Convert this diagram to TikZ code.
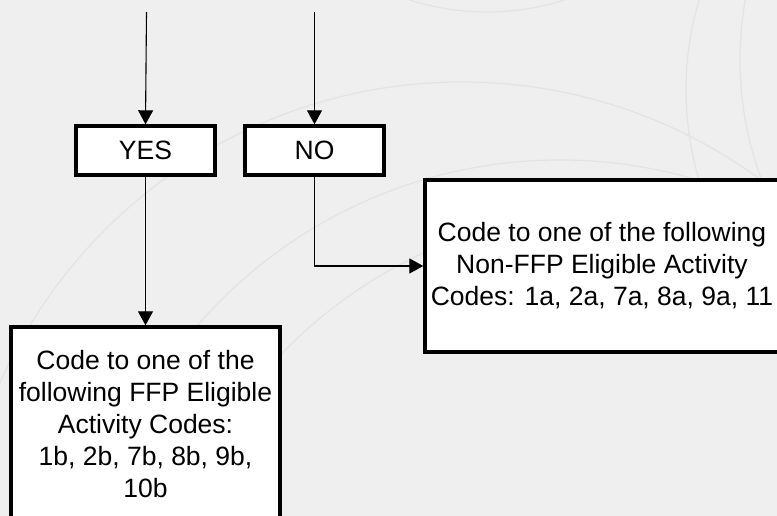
\documentclass[tikz,border=0pt]{standalone}
\usepackage{fontspec}
\setmainfont{Liberation Sans}
\usetikzlibrary{arrows.meta}
\definecolor{bg}{HTML}{EFEFEF}
\definecolor{arcc}{HTML}{E3E3E3}
\tikzset{
  boxnode/.style={draw=black, fill=white, line width=3.4pt, align=center,
    font=\fontsize{26.5}{32}\selectfont, inner sep=0pt},
  conn/.style={draw=black, line width=1.1pt, -{Triangle[length=14pt,width=15pt]}},
  deco/.style={draw=arcc, line width=1.2pt}
}
\begin{document}
\begin{tikzpicture}[x=1pt,y=-1pt]
\useasboundingbox[fill=bg] (0,0) rectangle (777,516);
\clip (0,0) rectangle (777,516);
% faint decorative arcs
\draw[deco] (462,587) circle (505);
\draw[deco] (487,-241) circle (253);
\draw[deco] (560,640) circle (480);
\draw[deco] (620,680) circle (470);
\draw[deco] (1000,90) circle (314);
\draw[deco] (1080,60) circle (340);
% nodes
\coordinate (yt) at (146.5,12);
\coordinate (nt) at (314.5,12);
\node[boxnode, minimum width=139pt, minimum height=49pt] (yes) at (145.5,150.5) {YES};
\node[boxnode, minimum width=139pt, minimum height=49pt] (no) at (314.5,150.5) {NO};
\node[boxnode, minimum width=354pt, minimum height=172pt] (nonffp) at (602,266)
  {Code to one of the following\\Non-FFP Eligible Activity\\Codes: 1a, 2a, 7a, 8a, 9a, 11};
\node[boxnode, minimum width=269pt, minimum height=194pt] (ffp) at (145.5,424)
  {Code to one of the\\following FFP Eligible\\Activity Codes:\\1b, 2b, 7b, 8b, 9b,\\10b};
% connectors
\draw[conn] (yt) -- (yes.north);
\draw[conn] (nt) -- (no.north);
\draw[conn] (yes.south) -- (ffp.north -| yes.south);
\draw[conn] (no.south) |- (nonffp.west);
\end{tikzpicture}
\end{document}
